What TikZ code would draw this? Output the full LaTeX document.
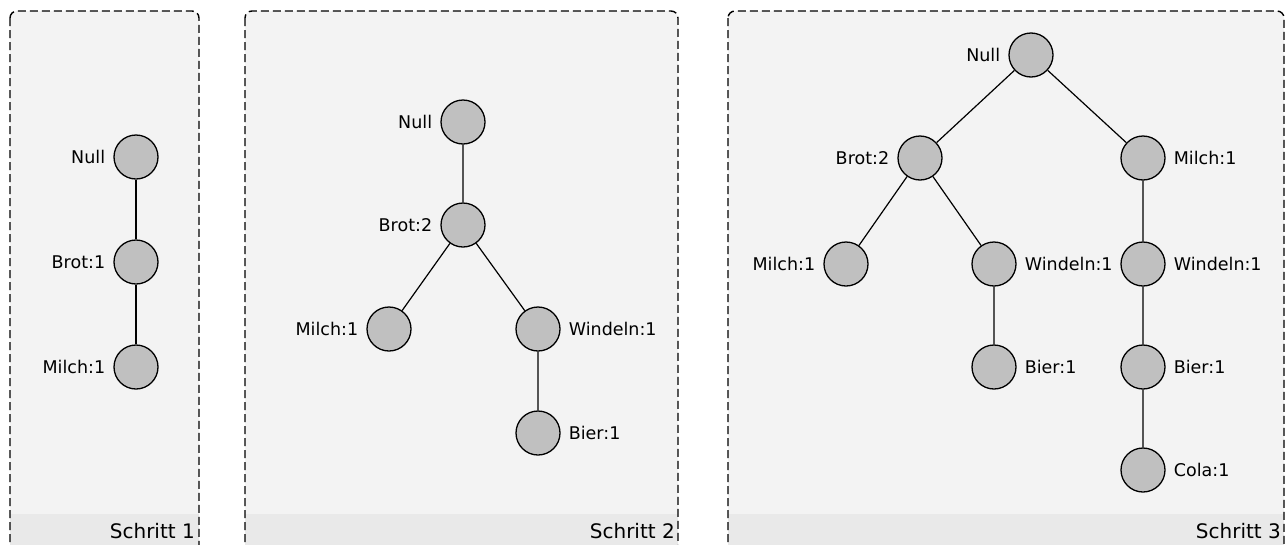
\documentclass[tikz,border=0pt]{standalone}
\usepackage{fontspec}
\setmainfont{DejaVu Sans}
\definecolor{panelbg}{HTML}{F3F3F3}
\definecolor{bandbg}{HTML}{E9E9E9}
\definecolor{nodefill}{HTML}{C0C0C0}
\begin{document}
\begin{tikzpicture}[x=1pt,y=-1pt,
  frame/.style={draw=black, line width=1.4pt, dash pattern=on 8pt off 4pt, rounded corners=7pt},
  item/.style={circle, draw=black, line width=1.3pt, fill=nodefill, minimum size=44pt, inner sep=0pt},
  link/.style={draw=black, line width=1.2pt},
  steplabel/.style={anchor=base east, inner sep=0pt, font=\fontsize{20}{24}\selectfont},
  label distance=8pt,
  every label/.style={inner sep=0pt, font=\fontsize{17.5}{21}\selectfont}]
\useasboundingbox (0,0) rectangle (1287,544);
\clip (0,0) rectangle (1287,544);

% panels: background, caption band, dashed frame
\foreach \l/\r in {10/199, 245/678, 728/1284}{
  \fill[panelbg, rounded corners=7pt] (\l,11) rectangle (\r,570);
  \fill[bandbg] (\l,514) rectangle (\r,570);
  \draw[frame] (\l,11) rectangle (\r,570);
}
\node[steplabel] (s1) at (195,538) {Schritt 1};
\node[steplabel] (s2) at (675,538) {Schritt 2};
\node[steplabel] (s3) at (1281,538) {Schritt 3};

% step 1
\node[item, label=left:Null]    (a0) at (136,157) {};
\node[item, label=left:Brot:1]  (a1) at (136,262) {};
\node[item, label=left:Milch:1] (a2) at (136,367) {};

% step 2
\node[item, label=left:Null]       (b0) at (463,122) {};
\node[item, label=left:Brot:2]     (b1) at (463,225) {};
\node[item, label=left:Milch:1]    (b2) at (389,329) {};
\node[item, label=right:Windeln:1] (b3) at (538,329) {};
\node[item, label=right:Bier:1]    (b4) at (538,433) {};

% step 3
\node[item, label=left:Null]       (c0) at (1031,55) {};
\node[item, label=left:Brot:2]     (c1) at (920,158) {};
\node[item, label=right:Milch:1]   (c2) at (1143,158) {};
\node[item, label=left:Milch:1]    (c3) at (846,264) {};
\node[item, label=right:Windeln:1] (c4) at (994,264) {};
\node[item, label=right:Windeln:1] (c5) at (1143,264) {};
\node[item, label=right:Bier:1]    (c6) at (994,367) {};
\node[item, label=right:Bier:1]    (c7) at (1143,367) {};
\node[item, label=right:Cola:1]    (c8) at (1143,470) {};

% tree edges
\draw[link] (a0) -- (a1) (a1) -- (a2);
\draw[link] (b0) -- (b1) (b1) -- (b2) (b1) -- (b3) (b3) -- (b4);
\draw[link] (c0) -- (c1) (c0) -- (c2) (c1) -- (c3) (c1) -- (c4)
            (c4) -- (c6) (c2) -- (c5) (c5) -- (c7) (c7) -- (c8);
\end{tikzpicture}
\end{document}
